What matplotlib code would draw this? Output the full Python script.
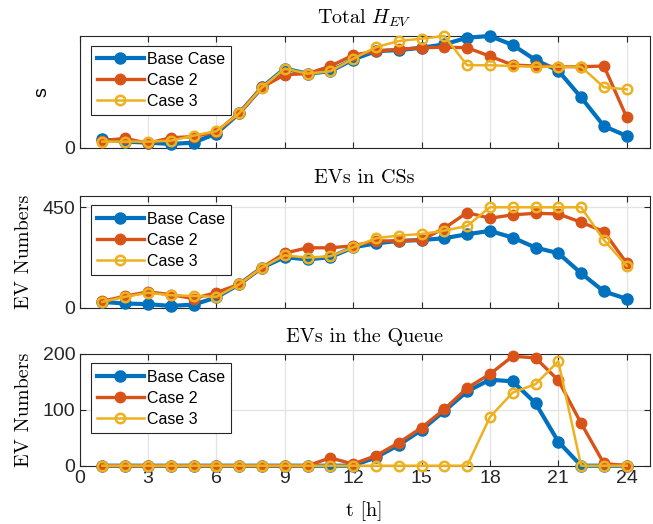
import matplotlib
matplotlib.use("Agg")
import matplotlib.pyplot as plt
import numpy as np

plt.rcParams['mathtext.fontset'] = 'cm'
plt.rcParams['font.serif'] = ['cmr10']
plt.rcParams['axes.formatter.use_mathtext'] = False

hours = list(range(1, 25))

# Panel 1: Total H_EV (relative scale, only 0 labelled)
hev_base = [0.077, 0.057, 0.048, 0.036, 0.048, 0.129, 0.309, 0.541, 0.709, 0.664, 0.685, 0.790,
            0.865, 0.874, 0.895, 0.925, 0.985, 1.000, 0.920, 0.786, 0.690, 0.452, 0.196, 0.107]
hev_case2 = [0.065, 0.086, 0.042, 0.092, 0.101, 0.144, 0.309, 0.541, 0.655, 0.664, 0.730, 0.829,
             0.865, 0.880, 0.895, 0.900, 0.895, 0.820, 0.741, 0.732, 0.726, 0.726, 0.732, 0.274]
hev_case3 = [0.057, 0.057, 0.057, 0.065, 0.110, 0.150, 0.309, 0.540, 0.709, 0.664, 0.685, 0.796,
             0.900, 0.955, 0.976, 1.000, 0.739, 0.739, 0.732, 0.726, 0.726, 0.726, 0.542, 0.524]

# Panel 2: EVs in CSs
cs_base = [25, 18, 15, 7, 13, 45, 104, 179, 226, 216, 226, 270,
           288, 299, 303, 311, 329, 344, 314, 269, 244, 154, 72, 39]
cs_case2 = [28, 51, 70, 58, 40, 67, 104, 179, 244, 268, 268, 277,
            299, 299, 303, 356, 426, 401, 416, 423, 420, 383, 341, 199]
cs_case3 = [25, 48, 66, 55, 52, 48, 104, 179, 234, 224, 230, 270,
            311, 323, 330, 345, 366, 450, 450, 450, 450, 450, 303, 187]

# Panel 3: EVs in the Queue
q_base = [0, 0, 0, 0, 0, 0, 0, 0, 0, 0, 0, 0,
          15, 37, 64, 98, 133, 154, 151, 112, 43, 0, 0, 0]
q_case2 = [0, 0, 0, 0, 0, 0, 0, 0, 0, 0, 14, 3,
           18, 41, 68, 101, 139, 164, 196, 193, 153, 76, 4, 0]
q_case3 = [0, 0, 0, 0, 0, 0, 0, 0, 0, 0, 0, 0,
           0, 0, 0, 0, 0, 87, 131, 146, 187, 0, 0, 0]

labels = ['Base Case', 'Case 2', 'Case 3']
colors = ['#0072BD', '#D95319', '#EDB120']
xticks = [0, 3, 6, 9, 12, 15, 18, 21, 24]

W, H = 653, 524
fig = plt.figure(figsize=(W / 100, H / 100), dpi=100)

def rect(top, bottom, left=79.5, right=649.5):
    return [left / W, 1 - bottom / H, (right - left) / W, (bottom - top) / H]

panels = [
    (rect(36, 148), (hev_base, hev_case2, hev_case3), (0, 1.0), [0], 'Total $H_{EV}$', 's'),
    (rect(195.7, 307.5), (cs_base, cs_case2, cs_case3), (0, 502), [0, 450], 'EVs in CSs', 'EV Numbers'),
    (rect(354, 465.7), (q_base, q_case2, q_case3), (0, 200), [0, 100, 200], 'EVs in the Queue', 'EV Numbers'),
]

for i, (r, series, ylim, yticks, title, ylabel) in enumerate(panels):
    ax = fig.add_axes(r)
    b, c2, c3 = series
    ax.plot(hours, b, '-o', color=colors[0], lw=3.0, ms=8.0, mfc=colors[0], mec=colors[0],
            label=labels[0], clip_on=False, zorder=3)
    ax.plot(hours, c2, '-o', color=colors[1], lw=2.4, ms=7.5, mfc=colors[1], mec=colors[1],
            label=labels[1], clip_on=False, zorder=4)
    ax.plot(hours, c3, '-o', color=colors[2], lw=1.8, ms=6.8, mfc='none', mec=colors[2], mew=1.8,
            label=labels[2], clip_on=False, zorder=5)
    ax.set_xlim(0, 25)
    ax.set_ylim(*ylim)
    ax.set_xticks(xticks)
    ax.set_yticks(yticks)
    ax.grid(True, color='#e3e3e3', lw=0.9)
    ax.set_axisbelow(True)
    ax.tick_params(direction='in', top=True, right=True, length=4, width=0.8,
                   color='#262626', labelsize=14, pad=3)
    for lab in ax.get_xticklabels() + ax.get_yticklabels():
        lab.set_fontfamily('Liberation Sans')
        lab.set_color('#262626')
    if i < 2:
        ax.set_xticklabels([])
    for s in ax.spines.values():
        s.set_color('#262626')
        s.set_linewidth(0.8)
    ax.set_title(title, fontfamily='serif', fontsize=14.5, pad=9)
    if i == 0:
        ax.set_ylabel(ylabel, fontfamily='Liberation Sans', fontsize=14, labelpad=10)
    else:
        ax.set_ylabel(ylabel, fontfamily='serif', fontsize=14.5, labelpad=7)
    leg = ax.legend(loc='upper left', bbox_to_anchor=(0.02, 0.915), fancybox=False,
                    framealpha=1, edgecolor='#262626', handlelength=2.9,
                    prop={'family': 'Liberation Sans', 'size': 11.5}, borderpad=0.4,
                    labelspacing=0.38, handletextpad=0.2, borderaxespad=0.0)
    leg.get_frame().set_linewidth(0.8)
    if i == 2:
        ax.set_xlabel('t [h]', fontfamily='serif', fontsize=14.5, labelpad=10)

fig.savefig('out.png', dpi=100)
